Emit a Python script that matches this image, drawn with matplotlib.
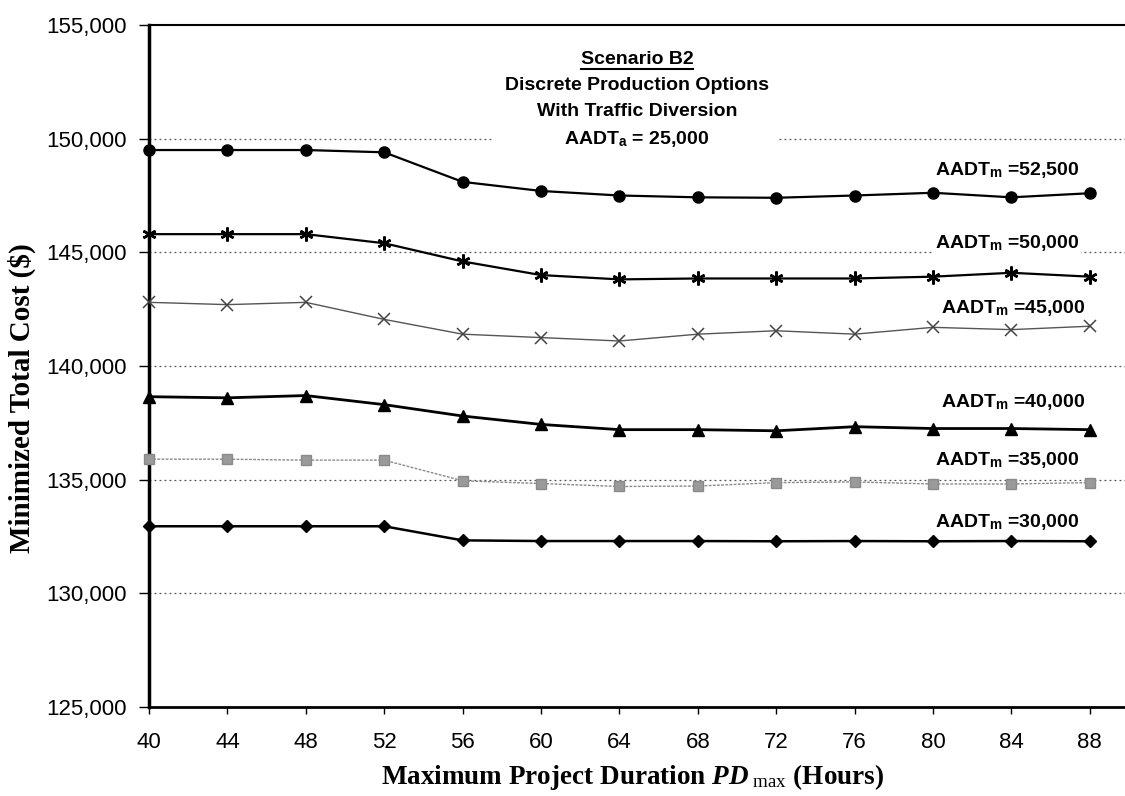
import numpy as np
import matplotlib
matplotlib.use('Agg')
import matplotlib.pyplot as plt
from matplotlib.patches import Rectangle
from matplotlib.lines import Line2D

plt.rcParams['font.family'] = 'Liberation Sans'
plt.rcParams['mathtext.fontset'] = 'custom'
plt.rcParams['mathtext.rm'] = 'Liberation Serif'
plt.rcParams['mathtext.it'] = 'Liberation Serif:italic:bold'
plt.rcParams['mathtext.sf'] = 'Liberation Sans:bold'

# data
hours = [40, 44, 48, 52, 56, 60, 64, 68, 72, 76, 80, 84, 88]
cost_52500 = [149500, 149500, 149500, 149400, 148100, 147700, 147500, 147420, 147400, 147500, 147620, 147420, 147600]
cost_50000 = [145800, 145800, 145800, 145400, 144600, 144000, 143810, 143850, 143850, 143850, 143930, 144100, 143930]
cost_45000 = [142800, 142700, 142800, 142050, 141400, 141250, 141100, 141400, 141550, 141400, 141700, 141600, 141750]
cost_40000 = [138650, 138600, 138700, 138300, 137800, 137430, 137200, 137200, 137150, 137330, 137250, 137250, 137200]
cost_35000 = [135900, 135900, 135860, 135860, 134950, 134830, 134700, 134720, 134870, 134900, 134810, 134810, 134870]
cost_30000 = [132950, 132950, 132950, 132950, 132330, 132300, 132300, 132300, 132290, 132300, 132290, 132300, 132290]
labels = ['52,500', '50,000', '45,000', '40,000', '35,000', '30,000']

fig = plt.figure(figsize=(11.25, 7.96), dpi=100)
ax = fig.add_axes([149/1125, 89/796, 976/1125, 682/796])

series = [cost_52500, cost_50000, cost_45000, cost_40000, cost_35000, cost_30000]
styles = [
    dict(color='black', lw=1.6, marker='o', ms=8, mfc='black', mec='black'),
    dict(color='black', lw=1.6, marker=(6, 2, 0), ms=10, mec='black', mew=1.8),
    dict(color='#555555', lw=1.0, marker='x', ms=9, mec='#444444', mew=1.1),
    dict(color='black', lw=2.0, marker='^', ms=8.5, mfc='black', mec='black'),
    dict(color='#8a8a8a', lw=1.0, ls=(0, (2, 1)), marker='s', ms=7.5, mfc='#9a9a9a', mec='#8a8a8a'),
    dict(color='black', lw=1.8, marker='D', ms=6.5, mfc='black', mec='black'),
]
for ys, st in zip(series, styles):
    ax.plot(hours, ys, zorder=4, clip_on=False, **st)

# line labels
label_x = [80.1, 80.1, 80.4, 80.4, 80.1, 80.1]
label_y = [148600, 145400, 142550, 138400, 135850, 133150]
for lab, lx, ly in zip(labels, label_x, label_y):
    ax.text(lx, ly, 'AADT$_{\\mathsf{m}}$ =' + lab, fontsize=14, fontweight='bold',
            ha='left', va='center', zorder=3,
            bbox=dict(facecolor='white', edgecolor='none', pad=1))

# title block
ax.add_patch(Rectangle((0.352, 0.809), 0.294, 0.162, transform=ax.transAxes,
                       facecolor='white', edgecolor='none', zorder=2))
title_lines = ['Scenario B2', 'Discrete Production Options', 'With Traffic Diversion',
               'AADT$_{\\mathsf{a}}$ = 25,000']
title_y = [59, 86, 112, 139]
texts = []
for tl, ty in zip(title_lines, title_y):
    t = ax.text(0.5, (707 - ty) / 682, tl, transform=ax.transAxes, fontsize=14,
                fontweight='bold', ha='center', va='center', zorder=3)
    texts.append(t)

ax.set_xlim(40, 40 + 976 / 19.6)
ax.set_ylim(125000, 155000)
ax.set_xticks(hours)
ax.set_yticks(np.arange(125000, 155001, 5000))
ax.yaxis.set_major_formatter(matplotlib.ticker.FuncFormatter(lambda v, p: f'{int(v):,}'))
ax.tick_params(axis='y', direction='out', length=7, width=1, pad=9, labelsize=16)
ax.tick_params(axis='x', direction='out', length=5, width=1, pad=13, labelsize=16)

for v in range(130000, 150001, 5000):
    ax.axhline(v, color='#555555', lw=0.9, ls=(0, (1.5, 2.5)), zorder=1)

ax.spines['right'].set_visible(False)
ax.spines['left'].set_linewidth(2.5)
ax.spines['bottom'].set_linewidth(2)
ax.spines['top'].set_linewidth(1.5)

fig.text(0.0196, 0.5, 'Minimized Total Cost ($)', rotation=90,
         ha='center', va='center', fontsize=21, fontweight='bold', family='Liberation Serif')
fig.text(0.5627, 0.024, 'Maximum Project Duration $\\mathit{PD}_{\\ \\mathrm{max}}$ (Hours)',
         ha='center', va='center', fontsize=19.5, fontweight='bold', family='Liberation Serif')

# underline the scenario name
fig.canvas.draw()
bb = texts[0].get_window_extent().transformed(fig.transFigure.inverted())
fig.add_artist(Line2D([bb.x0, bb.x1], [bb.y0 - 0.002, bb.y0 - 0.002], color='black', lw=1.5))

fig.savefig('out.png', dpi=100)
